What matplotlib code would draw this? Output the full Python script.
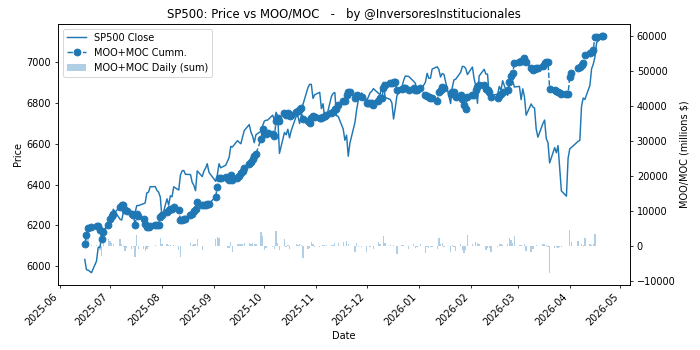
import pandas as pd
import matplotlib
matplotlib.use("Agg")
import matplotlib.pyplot as plt
import numpy as np

holidays = ["2025-06-19", "2025-07-04", "2025-09-01", "2025-11-27", "2025-12-25",
            "2026-01-01", "2026-01-19", "2026-02-16", "2026-04-03"]
dates = pd.bdate_range("2025-06-16", "2026-04-21", freq="C", holidays=holidays)

sp500_close = [
    # Jun
    6033, 5983, 5981, 5968, 6025, 6092, 6092, 6141, 6173, 6205,
    # Jul
    6198, 6227, 6279, 6230, 6226, 6263, 6280, 6260, 6269, 6244, 6264, 6297,
    6297, 6306, 6310, 6359, 6363, 6389, 6390, 6371, 6363, 6339,
    # Aug
    6238, 6330, 6299, 6345, 6340, 6389, 6373, 6446, 6467, 6469, 6450, 6449,
    6411, 6396, 6370, 6467, 6439, 6466, 6481, 6502, 6460,
    # Sep
    6416, 6448, 6502, 6482, 6495, 6513, 6532, 6587, 6584, 6615, 6607, 6600,
    6632, 6664, 6694, 6657, 6638, 6605, 6644, 6661, 6688,
    # Oct
    6711, 6715, 6716, 6740, 6715, 6754, 6735, 6553, 6655, 6644, 6671, 6629,
    6664, 6735, 6735, 6699, 6738, 6792, 6875, 6891, 6891, 6822, 6840,
    # Nov
    6852, 6772, 6796, 6720, 6729, 6832, 6847, 6851, 6737, 6734, 6672, 6617,
    6642, 6539, 6603, 6705, 6766, 6813, 6849,
    # Dec
    6813, 6829, 6850, 6857, 6870, 6847, 6841, 6887, 6901, 6827, 6817, 6800,
    6721, 6775, 6835, 6878, 6910, 6932, 6930, 6906, 6896, 6846,
    # Jan
    6858, 6902, 6945, 6921, 6921, 6966, 6977, 6964, 6927, 6944, 6940, 6797,
    6876, 6913, 6916, 6950, 6979, 6978, 6969, 6939,
    # Feb
    6976, 6918, 6883, 6798, 6932, 6965, 6942, 6941, 6833, 6836, 6843, 6881,
    6861, 6909, 6837, 6890, 6946, 6908, 6878,
    # Mar
    6881, 6816, 6869, 6830, 6740, 6795, 6780, 6775, 6672, 6632, 6699, 6716,
    6625, 6606, 6506, 6581, 6556, 6591, 6477, 6369, 6343, 6529,
    # Apr
    6575, 6582, 6612, 6616, 6783, 6824, 6817, 6886, 6967, 6990, 7025, 7095,
    7126, 7128,
]

moo_moc_cumm = [
    # Jun
    800, 3200, 5200, 5500, 5800, 5700, 4800, 2000, 4000, 6200,
    # Jul
    7800, 8700, 9300, 11300, 11900, 11800, 10400, 10000, 9200, 9000, 6000, 9200,
    8600, 7800, 6400, 5600, 5500, 5700, 6100, 6100, 6100, 8400,
    # Aug
    9000, 9800, 10300, 10700, 10800, 11300, 10400, 7500, 7600, 7800, 7900, 9000,
    9300, 10000, 10700, 12700, 11800, 11800, 11800, 12000, 12100,
    # Sep
    14200, 17000, 19400, 19600, 19800, 19400, 19000, 20300, 18800, 19400, 20000,
    20800, 21400, 22500, 23400, 24000, 25000, 25700, 26400, 30600, 33500,
    # Oct
    32500, 32100, 32200, 32100, 31500, 35800, 36700, 35800, 37900, 37600, 37900,
    37300, 37500, 38200, 38700, 39300, 39600, 36400, 35800, 35300, 36500, 37300, 37000,
    # Nov
    36700, 36700, 37000, 37300, 37600, 37900, 38200, 39300, 39300, 40200, 41600,
    41600, 43100, 43900, 43900, 42200, 43100, 42800, 42500,
    # Dec
    41000, 41000, 40800, 40800, 40200, 41600, 42200, 42200, 45100, 46000, 46500,
    46500, 46800, 46800, 44500, 44800, 45100, 45100, 44500, 45100, 44700, 44500,
    # Jan
    45100, 43100, 43000, 42500, 42300, 42200, 41600, 43900, 44500, 45400, 45100,
    43600, 44000, 43900, 42500, 43100, 42000, 40200, 39300, 42500,
    # Feb
    43100, 43100, 44500, 45400, 46000, 46000, 45000, 44500, 44000, 42500, 42200,
    43000, 43600, 43900, 44500, 46800, 48500, 49400, 52300,
    # Mar
    52600, 52900, 53000, 53800, 52600, 50900, 50300, 50500, 50900, 50900, 51500,
    52300, 52600, 52500, 45000, 44500, 44300, 43900, 43700, 43600, 43600, 43600,
    # Apr
    48300, 49500, 51000, 51200, 51800, 52200, 54600, 55200, 55500, 56100, 59700,
    59800, 59900, 60000,
]

# daily sums are the day-to-day steps of the cumulative series
moo_moc_daily = np.diff(np.array(moo_moc_cumm), prepend=0)

fig, ax1 = plt.subplots(figsize=(10, 5), dpi=70)
ax2 = ax1.twinx()

l1, = ax1.plot(dates, sp500_close, color="tab:blue", lw=1.5, label="SP500 Close")
bars = ax2.bar(dates, moo_moc_daily, width=0.8, color="tab:blue", alpha=0.35,
               label="MOO+MOC Daily (sum)")
l2, = ax2.plot(dates, moo_moc_cumm, "--o", color="tab:blue", markersize=7,
               lw=1.5, label="MOO+MOC Cumm.")

ax1.set_xlabel("Date")
ax1.set_ylabel("Price")
ax2.set_ylabel("MOO/MOC (millions $)")
ax1.set_title("SP500: Price vs MOO/MOC   -   by @InversoresInstitucionales")
plt.setp(ax1.get_xticklabels(), rotation=45, ha="right")

ax2.legend([l1, l2, bars], ["SP500 Close", "MOO+MOC Cumm.", "MOO+MOC Daily (sum)"],
           loc="upper left")

fig.subplots_adjust(left=0.083, right=0.9, top=0.931, bottom=0.187)
fig.savefig("out.png", dpi=70)
